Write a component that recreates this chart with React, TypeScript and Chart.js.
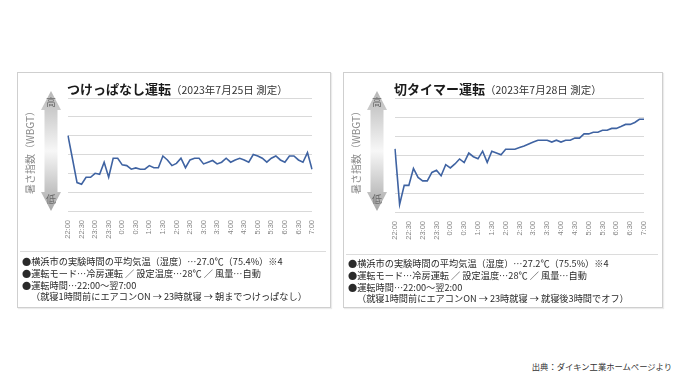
import React, { useEffect, useRef } from "react";
import { Chart, registerables } from "chart.js";

Chart.register(...registerables);

const categories = [
  "22:00","22:10","22:20","22:30","22:40","22:50",
  "23:00","23:10","23:20","23:30","23:40","23:50",
  "0:00","0:10","0:20","0:30","0:40","0:50",
  "1:00","1:10","1:20","1:30","1:40","1:50",
  "2:00","2:10","2:20","2:30","2:40","2:50",
  "3:00","3:10","3:20","3:30","3:40","3:50",
  "4:00","4:10","4:20","4:30","4:40","4:50",
  "5:00","5:10","5:20","5:30","5:40","5:50",
  "6:00","6:10","6:20","6:30","6:40","6:50",
  "7:00",
];

const tickLabels = [
  "22:00","22:30","23:00","23:30","0:00","0:30","1:00","1:30","2:00","2:30",
  "3:00","3:30","4:00","4:30","5:00","5:30","6:00","6:30","7:00",
];

// WBGT index (relative, no numeric axis shown)
const continuousValues = [
  4.0, 2.76, 1.51, 1.42, 1.79, 1.79, 2.0, 1.95, 2.59, 1.79,
  2.8, 2.8, 2.45, 2.41, 2.22, 2.29, 2.22, 2.22, 2.41, 2.3,
  2.3, 2.92, 2.71, 2.41, 2.53, 2.8, 2.3, 2.71, 2.8, 2.8,
  2.5, 2.59, 2.68, 2.5, 2.59, 2.8, 2.59, 2.71, 2.8, 2.71,
  2.59, 3.0, 2.92, 2.8, 2.59, 2.8, 2.92, 2.71, 2.59, 2.92,
  2.92, 2.71, 2.59, 3.1, 2.22,
];

const timerValues = [
  3.32, 0.4, 1.4, 1.4, 2.29, 1.82, 1.64, 1.64, 2.08, 2.2,
  1.91, 2.49, 2.32, 2.53, 2.79, 2.6, 3.1, 2.91, 2.8, 3.2,
  2.61, 3.2, 3.11, 3.01, 3.3, 3.3, 3.3, 3.39, 3.47, 3.58,
  3.68, 3.78, 3.78, 3.78, 3.68, 3.78, 3.68, 3.78, 3.78, 3.89,
  3.89, 4.11, 4.11, 4.2, 4.2, 4.3, 4.3, 4.4, 4.4, 4.5,
  4.61, 4.61, 4.71, 4.88, 4.88,
];

const yMin = 0;
const yMax = 6;
const yAxisLabel = "暑さ指数（WBGT）";
const highLabel = "高";
const lowLabel = "低";

const JP = "'Noto Sans CJK JP', 'Noto Sans', sans-serif";

type ChartBoxProps = {
  values: number[];
  left: number;
  top: number;
  width: number;
  height: number;
  padL: number;
  padR: number;
  padT: number;
  xAxisH: number;
  arrowCx: number;
  labelCx: number;
};

function LineChartBox(p: ChartBoxProps) {
  const ref = useRef<HTMLCanvasElement | null>(null);
  useEffect(() => {
    if (!ref.current) return;
    const decor = {
      id: "decor",
      beforeDraw(chart: any) {
        const ctx = chart.ctx as CanvasRenderingContext2D;
        const cx = p.arrowCx;
        const top = 91 - p.top;
        const bottom = 211 - p.top;
        const hw = 10;
        const sw = 6.5;
        const hh = 19;
        ctx.save();
        const g = ctx.createLinearGradient(0, top, 0, bottom);
        g.addColorStop(0, "#b7b7b7");
        g.addColorStop(0.5, "#f7f7f7");
        g.addColorStop(1, "#a7a7a7");
        ctx.fillStyle = g;
        ctx.beginPath();
        ctx.moveTo(cx, top);
        ctx.lineTo(cx + hw, top + hh);
        ctx.lineTo(cx + sw, top + hh);
        ctx.lineTo(cx + sw, bottom - hh);
        ctx.lineTo(cx + hw, bottom - hh);
        ctx.lineTo(cx, bottom);
        ctx.lineTo(cx - hw, bottom - hh);
        ctx.lineTo(cx - sw, bottom - hh);
        ctx.lineTo(cx - sw, top + hh);
        ctx.lineTo(cx - hw, top + hh);
        ctx.closePath();
        ctx.fill();
        ctx.fillStyle = "#6a6a6a";
        ctx.font = `10px ${JP}`;
        ctx.textAlign = "center";
        ctx.textBaseline = "middle";
        ctx.fillText(highLabel, cx, 102 - p.top);
        ctx.fillText(lowLabel, cx, 199 - p.top);
        ctx.fillStyle = "#8a8a8a";
        ctx.translate(p.labelCx, 150 - p.top);
        ctx.rotate(-Math.PI / 2);
        ctx.fillText(yAxisLabel, 0, 0);
        ctx.restore();
      },
    };
    const chart = new Chart(ref.current, {
      type: "line",
      data: {
        labels: categories,
        datasets: [
          {
            data: p.values,
            borderColor: "#3f63a2",
            borderWidth: 1.6,
            pointRadius: 0,
            tension: 0,
            fill: false,
          },
        ],
      },
      plugins: [decor],
      options: {
        animation: false,
        responsive: false,
        maintainAspectRatio: false,
        layout: { padding: { left: p.padL, right: p.padR, top: p.padT, bottom: 0 } },
        plugins: { legend: { display: false }, tooltip: { enabled: false }, title: { display: false } },
        scales: {
          x: {
            offset: false,
            grid: { display: false, drawTicks: false },
            border: { display: false },
            ticks: {
              autoSkip: false,
              maxRotation: 90,
              minRotation: 90,
              padding: 9,
              color: "#858585",
              font: { family: "'Liberation Sans', Arial, sans-serif", size: 7.5 },
              callback: (_v: any, i: number) =>
                tickLabels.includes(categories[i]) ? categories[i] : "",
            },
            afterFit: (s: any) => {
              s.height = p.xAxisH;
            },
          },
          y: {
            min: yMin,
            max: yMax,
            grid: { color: "#d9d9d9", lineWidth: 1, drawTicks: false },
            border: { display: false },
            ticks: { display: false, stepSize: 1 },
            afterFit: (s: any) => {
              s.width = 0;
            },
          },
        },
      },
    });
    return () => chart.destroy();
  }, []);
  return (
    <canvas
      ref={ref}
      width={p.width}
      height={p.height}
      style={{ position: "absolute", left: p.left, top: p.top, width: p.width, height: p.height }}
    />
  );
}

const abs = (l: number, t: number, extra: any = {}) => ({
  position: "absolute" as const,
  left: l,
  top: t,
  whiteSpace: "nowrap" as const,
  fontFamily: JP,
  ...extra,
});

type PanelProps = {
  x: number;
  w: number;
  title: string;
  sub: string;
  values: number[];
  chartLeft: number;
  chartRight: number;
  chartBottom: number;
  sepY: number;
  textY: number;
  lines: string[];
  note: string;
};

function Panel(p: PanelProps) {
  const canvasLeft = p.x + 1;
  const canvasW = p.w - 2;
  const canvasTop = 73;
  const canvasH = 180;
  return (
    <>
      <div
        style={{
          position: "absolute",
          left: p.x,
          top: 72,
          width: p.w,
          height: 236,
          border: "1px solid #cfcfcf",
          boxSizing: "border-box",
          boxShadow: "1px 1px 1px rgba(0,0,0,0.08)",
        }}
      />
      <LineChartBox
        values={p.values}
        left={canvasLeft}
        top={canvasTop}
        width={canvasW}
        height={canvasH}
        padL={p.chartLeft - canvasLeft}
        padR={canvasLeft + canvasW - p.chartRight}
        padT={98 - canvasTop}
        xAxisH={canvasTop + canvasH - p.chartBottom}
        arrowCx={34 - 1}
        labelCx={13 - 1}
      />
      <div style={abs(p.chartLeft - 1, 78, { lineHeight: "18px", color: "#1a1a1a" })}>
        <span style={{ fontSize: 13, fontWeight: 700 }}>{p.title}</span>
        <span style={{ fontSize: 10.5, color: "#333" }}>{p.sub}</span>
      </div>
      <div
        style={{
          position: "absolute",
          left: p.x + 3,
          top: p.sepY,
          width: p.w - 8,
          height: 1,
          background: "#dcdcdc",
        }}
      />
      {p.lines.map((t, i) => (
        <div key={i} style={abs(p.x + 5, p.textY + i * 11.8, { fontSize: 9.2, lineHeight: "12px", color: "#2a2a2a" })}>
          {t}
        </div>
      ))}
      <div style={abs(p.x + 14, p.textY + 3 * 11.8, { fontSize: 9.2, lineHeight: "12px", color: "#2a2a2a" })}>
        {p.note}
      </div>
    </>
  );
}

export default function App() {
  return (
    <div
      style={{
        position: "absolute",
        left: 0,
        top: 0,
        width: 680,
        height: 382,
        background: "#ffffff",
        overflow: "hidden",
      }}
    >
      <Panel
        x={17}
        w={314}
        title="つけっぱなし運転"
        sub="（2023年7月25日 測定）"
        values={continuousValues}
        chartLeft={68}
        chartRight={322}
        chartBottom={211}
        sepY={251}
        textY={255}
        lines={[
          "●横浜市の実験時間の平均気温（湿度）…27.0℃（75.4%）※4",
          "●運転モード…冷房運転 ／ 設定温度…28℃ ／ 風量…自動",
          "●運転時間…22:00〜翌7:00",
        ]}
        note="（就寝1時間前にエアコンON → 23時就寝 → 朝までつけっぱなし）"
      />
      <Panel
        x={343}
        w={320}
        title="切タイマー運転"
        sub="（2023年7月28日 測定）"
        values={timerValues}
        chartLeft={395}
        chartRight={656}
        chartBottom={212}
        sepY={254}
        textY={257}
        lines={[
          "●横浜市の実験時間の平均気温（湿度）…27.2℃（75.5%）※4",
          "●運転モード…冷房運転 ／ 設定温度…28℃ ／ 風量…自動",
          "●運転時間…22:00〜翌2:00",
        ]}
        note="（就寝1時間前にエアコンON → 23時就寝 → 就寝後3時間でオフ）"
      />
      <div style={abs(0, 360, { fontSize: 8.3, lineHeight: "12px", color: "#333", left: "auto", right: 8 })}>
        出典：ダイキン工業ホームページより
      </div>
    </div>
  );
}
